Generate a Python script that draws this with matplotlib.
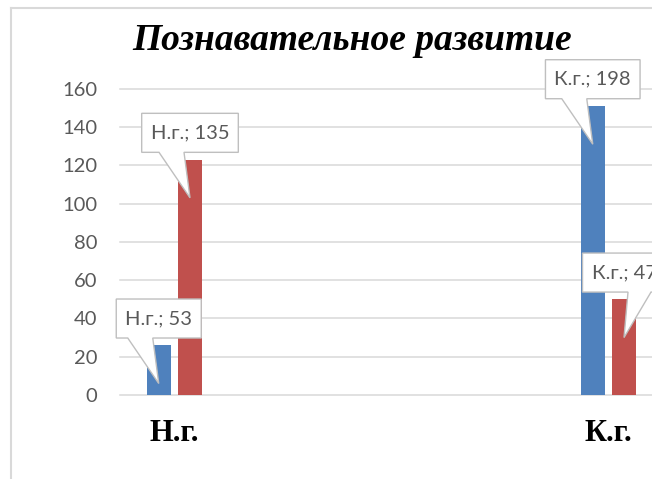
import matplotlib
matplotlib.use("Agg")
import matplotlib.pyplot as plt
from matplotlib.patches import Polygon
from matplotlib.lines import Line2D
from matplotlib.transforms import IdentityTransform
import numpy as np

# ---- data ----
categories = ["Н.г.", "К.г."]
series_blue = [26, 151]
series_red = [123, 50]
label_values_blue = [53, 198]
label_values_red = [135, 47]
title = "Познавательное развитие"
yticks = [0, 20, 40, 60, 80, 100, 120, 140, 160]

BLUE = "#4F81BD"
RED = "#C0504D"
GRID = "#D9D9D9"

W, H = 652, 479
fig = plt.figure(figsize=(W / 100, H / 100), dpi=100)
fig.patch.set_facecolor("white")

ax_left, ax_right, ax_bottom, ax_top = 120, 652, 395, 88.7
ax = fig.add_axes([ax_left / W, (H - ax_bottom) / H,
                   (ax_right - ax_left) / W, (ax_bottom - ax_top) / H])

x = np.arange(len(categories))
bw = 0.0553
off = 0.036
ax.bar(x - off, series_blue, width=bw, color=BLUE, zorder=2)
ax.bar(x + off, series_red, width=bw, color=RED, zorder=2)

ax.set_xlim(-0.1253, 1.1005)
ax.set_ylim(0, 160)
ax.set_yticks(yticks)
ax.set_xticks(x)
ax.set_xticklabels(categories, fontfamily="Liberation Serif", fontweight="bold",
                   fontsize=22, color="black")
for s in ax.spines.values():
    s.set_visible(False)
ax.tick_params(axis="y", length=0, pad=16.5, labelsize=14.5, labelcolor="#595959")
ax.tick_params(axis="x", length=0, pad=17)
for t in ax.get_yticklabels():
    t.set_fontfamily("Lato")
ax.yaxis.grid(True, color=GRID, lw=1.1, zorder=0)
ax.set_axisbelow(True)
for gl in ax.get_ygridlines():
    gl.set_clip_on(False)

# title
fig.text(352 / W, (H - 50) / H, title, ha="center", va="baseline",
         fontfamily="Liberation Serif", fontweight="bold", fontstyle="italic",
         fontsize=27, color="black")

# chart border (light gray frame, left and top visible)
fig.add_artist(Line2D([11 / W, 11 / W], [0, (H - 8) / H], color=GRID, lw=1.5))
fig.add_artist(Line2D([11 / W, 1], [(H - 8) / H, (H - 8) / H], color=GRID, lw=1.5))

# ---- callouts ----
fig.canvas.draw()
renderer = fig.canvas.get_renderer()


def callout(xd, yd, text, side):
    tx, ty = ax.transData.transform((xd, yd - 20))
    cx, cy = tx, ty + 65
    t = fig.text(cx / W, cy / H, text, ha="center", va="center",
                 fontfamily="Lato", fontsize=14.5, color="#595959", zorder=6)
    bb = t.get_window_extent(renderer)
    hw = bb.width / 2 + 9
    hh = 19.5
    L, R, T, B = cx - hw, cx + hw, cy + hh, cy - hh
    if side == "left":
        b1, b2 = tx - 31, tx - 6
    else:
        b1, b2 = tx + 4, tx + 27
    pts = [(L, T), (R, T), (R, B), (b2, B), (tx, ty), (b1, B), (L, B)]
    poly = Polygon(pts, closed=True, facecolor="white", edgecolor="#BFBFBF",
                   lw=1.0, transform=IdentityTransform(), zorder=5)
    fig.add_artist(poly)


for i, cat in enumerate(categories):
    callout(x[i] - off, series_blue[i], f"{cat}; {label_values_blue[i]}", "left")
    callout(x[i] + off, series_red[i], f"{cat}; {label_values_red[i]}",
            "left" if i == 0 else "right")

fig.savefig("out.png", dpi=100)
